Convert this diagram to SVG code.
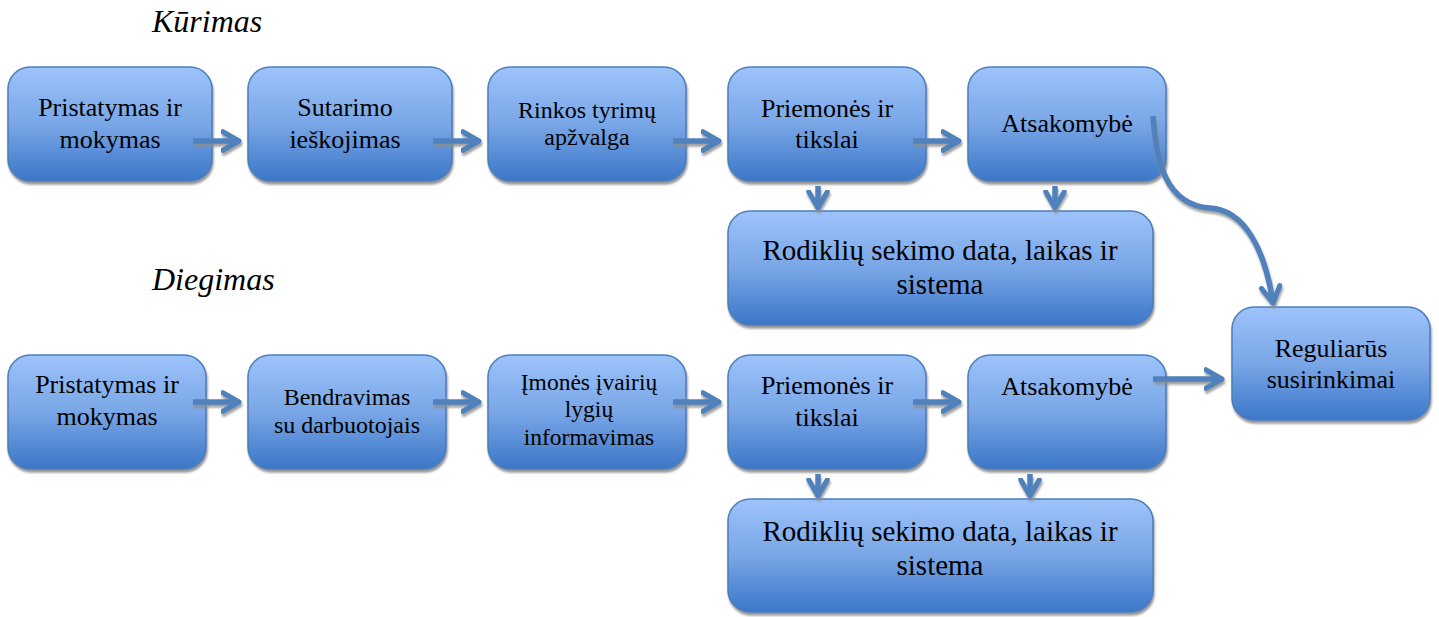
<svg xmlns="http://www.w3.org/2000/svg" width="1439" height="617" viewBox="0 0 1439 617">
<defs>
<linearGradient id="g" x1="0" y1="0" x2="0" y2="1">
<stop offset="0" stop-color="#9dc3fb"/>
<stop offset="0.5" stop-color="#79a6e6"/>
<stop offset="1" stop-color="#3b77c9"/>
</linearGradient>
<filter id="sh" x="-5%" y="-5%" width="110%" height="115%">
<feGaussianBlur in="SourceAlpha" stdDeviation="1"/>
<feOffset dx="1" dy="3" result="o"/>
<feFlood flood-color="#7f7f7f" flood-opacity="0.8"/>
<feComposite in2="o" operator="in"/>
<feMerge><feMergeNode/><feMergeNode in="SourceGraphic"/></feMerge>
</filter>
<filter id="shc" filterUnits="userSpaceOnUse" x="0" y="0" width="1439" height="617">
<feGaussianBlur in="SourceAlpha" stdDeviation="0.8"/>
<feOffset dx="1" dy="3" result="o"/>
<feFlood flood-color="#8c8c8c" flood-opacity="0.8"/>
<feComposite in2="o" operator="in"/>
<feMerge><feMergeNode/><feMergeNode in="SourceGraphic"/></feMerge>
</filter>
<marker id="ah" viewBox="0 0 10 10" refX="8" refY="5" markerWidth="4.2" markerHeight="5" orient="auto" markerUnits="strokeWidth">
<path d="M1,1 L8,5 L1,9" fill="none" stroke="#4f81bd" stroke-width="2.2" stroke-linecap="round" stroke-linejoin="round"/>
</marker>
</defs>
<style>
.box{fill:url(#g);stroke:#4a7ebb;stroke-width:1.5;filter:url(#sh)}
.t{font-family:'Liberation Serif','Tinos','Times New Roman','DejaVu Serif',serif;font-size:26px;fill:#000;text-anchor:middle}
.s{font-size:24px}
.m{font-size:23.5px}
.b{font-size:29px}
.h{font-family:'Liberation Serif','Tinos','Times New Roman','DejaVu Serif',serif;font-size:32px;font-style:italic;fill:#000}
.c{fill:none;stroke:#4f81bd;stroke-width:5.5;marker-end:url(#ah)}
</style>
<text class="h" x="152" y="32">Kūrimas</text>
<text class="h" x="152" y="290">Diegimas</text>

<g id="k1"><rect class="box" x="8" y="67" width="204" height="114" rx="22"/><text class="t" x="110" y="116">Pristatymas ir</text><text class="t" x="110" y="148">mokymas</text></g>
<g id="k2"><rect class="box" x="248" y="67" width="204" height="114" rx="22"/><text class="t" x="345" y="116">Sutarimo</text><text class="t" x="345" y="148">ieškojimas</text></g>
<g id="k3"><rect class="box" x="488" y="67" width="198" height="114" rx="22"/><text class="t s" x="587" y="118">Rinkos tyrimų</text><text class="t s" x="587" y="145">apžvalga</text></g>
<g id="k4"><rect class="box" x="728" y="67" width="198" height="114" rx="22"/><text class="t" x="827" y="117">Priemonės ir</text><text class="t" x="827" y="148">tikslai</text></g>
<g id="k5"><rect class="box" x="968" y="67" width="198" height="114" rx="22"/><text class="t" x="1067" y="132">Atsakomybė</text></g>
<g id="k6"><rect class="box" x="728" y="211" width="425" height="114" rx="22"/><text class="t b" x="940" y="260">Rodiklių sekimo data, laikas ir</text><text class="t b" x="940" y="294">sistema</text></g>

<g id="d1"><rect class="box" x="8" y="355" width="198" height="114" rx="22"/><text class="t" x="107" y="393">Pristatymas ir</text><text class="t" x="107" y="425">mokymas</text></g>
<g id="d2"><rect class="box" x="248" y="355" width="198" height="114" rx="22"/><text class="t s" x="347" y="405">Bendravimas</text><text class="t s" x="347" y="433">su darbuotojais</text></g>
<g id="d3"><rect class="box" x="488" y="355" width="198" height="114" rx="22"/><text class="t m" x="589" y="390">Įmonės įvairių</text><text class="t m" x="589" y="417">lygių</text><text class="t m" x="589" y="445">informavimas</text></g>
<g id="d4"><rect class="box" x="728" y="355" width="198" height="114" rx="22"/><text class="t" x="827" y="394">Priemonės ir</text><text class="t" x="827" y="426">tikslai</text></g>
<g id="d5"><rect class="box" x="968" y="355" width="198" height="114" rx="22"/><text class="t" x="1067" y="395">Atsakomybė</text></g>
<g id="d6"><rect class="box" x="728" y="499" width="425" height="113" rx="22"/><text class="t b" x="940" y="541">Rodiklių sekimo data, laikas ir</text><text class="t b" x="940" y="575">sistema</text></g>
<g id="r"><rect class="box" x="1232" y="307" width="198" height="113" rx="22"/><text class="t" x="1331" y="357">Reguliarūs</text><text class="t" x="1331" y="388">susirinkimai</text></g>

<g id="connectors" filter="url(#shc)">
<path class="c" d="M193,141 H239"/>
<path class="c" d="M433,141 H479"/>
<path class="c" d="M673,141 H719"/>
<path class="c" d="M913,141 H959"/>
<path class="c" d="M818,186 V208"/>
<path class="c" d="M1055,186 V208"/>
<path class="c" d="M1153,116 C1156,160 1165,205 1210,208 C1245,210 1265,250 1273,303"/>
<path class="c" d="M193,402 H239"/>
<path class="c" d="M433,402 H479"/>
<path class="c" d="M673,402 H719"/>
<path class="c" d="M913,402 H959"/>
<path class="c" d="M818,474 V496"/>
<path class="c" d="M1030,474 V496"/>
<path class="c" d="M1153,379 H1222"/>
</g>
</svg>
